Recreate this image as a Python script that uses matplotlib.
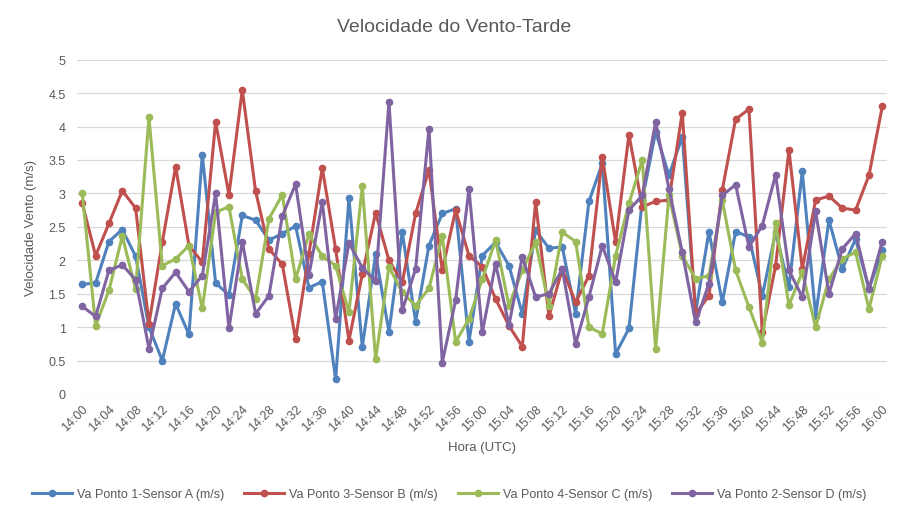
import numpy as np
import matplotlib as mpl
mpl.use('Agg')
import matplotlib.pyplot as plt

plt.rcParams['font.family'] = ['Liberation Sans', 'DejaVu Sans']

# horas de 2 em 2 minutos, 14:00 ate 16:00
horas = ['%02d:%02d' % (14 + m // 60, m % 60) for m in range(0, 122, 2)]

sensor_a = [1.64, 1.66, 2.28, 2.46, 2.06, 1.00, 0.50, 1.35, 0.89, 3.58,
            1.66, 1.48, 2.67, 2.60, 2.30, 2.40, 2.51, 1.59, 1.68, 0.22,
            2.93, 0.70, 2.09, 0.93, 2.42, 1.08, 2.22, 2.70, 2.77, 0.78,
            2.07, 2.27, 1.92, 1.20, 2.45, 2.18, 2.20, 1.20, 2.88, 3.45,
            0.60, 0.98, 2.90, 3.92, 3.27, 3.85, 1.22, 2.43, 1.37, 2.43,
            2.35, 1.47, 2.42, 1.60, 3.33, 1.17, 2.60, 1.87, 2.32, 1.57,
            2.15]
sensor_b = [2.85, 2.07, 2.55, 3.04, 2.78, 1.05, 2.27, 3.40, 2.22, 1.97,
            4.07, 2.98, 4.55, 3.03, 2.17, 1.94, 0.82, 2.10, 3.38, 2.17,
            0.80, 1.79, 2.71, 2.00, 1.67, 2.70, 3.35, 1.85, 2.75, 2.07,
            1.90, 1.42, 1.02, 0.71, 2.87, 1.16, 1.87, 1.37, 1.77, 3.55,
            2.27, 3.88, 2.80, 2.88, 2.90, 4.21, 1.20, 1.47, 3.05, 4.11,
            4.26, 0.92, 1.92, 3.65, 1.87, 2.90, 2.96, 2.78, 2.75, 3.27,
            4.30]
sensor_c = [3.00, 1.02, 1.55, 2.36, 1.57, 4.14, 1.92, 2.02, 2.22, 1.28,
            2.72, 2.80, 1.72, 1.42, 2.62, 2.98, 1.72, 2.39, 2.06, 1.92,
            1.22, 3.11, 0.52, 1.90, 1.52, 1.32, 1.58, 2.36, 0.78, 1.12,
            1.72, 2.30, 1.32, 1.85, 2.27, 1.32, 2.42, 2.28, 1.00, 0.90,
            2.07, 2.85, 3.50, 0.67, 2.97, 2.07, 1.72, 1.77, 2.90, 1.85,
            1.30, 0.77, 2.55, 1.33, 1.82, 1.00, 1.72, 2.02, 2.12, 1.27,
            2.07]
sensor_d = [1.31, 1.16, 1.85, 1.93, 1.71, 0.68, 1.58, 1.82, 1.53, 1.77,
            3.00, 0.98, 2.28, 1.20, 1.47, 2.66, 3.14, 1.78, 2.87, 1.12,
            2.26, 1.89, 1.69, 4.37, 1.25, 1.87, 3.97, 0.47, 1.40, 3.07,
            0.92, 1.95, 1.03, 2.05, 1.45, 1.50, 1.87, 0.75, 1.45, 2.22,
            1.67, 2.75, 2.97, 4.07, 3.07, 2.12, 1.07, 1.65, 2.97, 3.13,
            2.20, 2.52, 3.28, 1.85, 1.45, 2.73, 1.50, 2.17, 2.40, 1.57,
            2.28]

nomes = ['Va Ponto 1-Sensor A (m/s)', 'Va Ponto 3-Sensor B (m/s)',
         'Va Ponto 4-Sensor C (m/s)', 'Va Ponto 2-Sensor D (m/s)']
cores = ['#4F81BD', '#C0504D', '#9BBB59', '#8064A2']
cinza = '#595959'

fig = plt.figure(figsize=(8.99, 5.10), dpi=100)
ax = fig.add_axes([0.0853, 0.2255, 0.901, 0.6555])

x = np.arange(len(horas))
for serie, nome, cor in zip([sensor_a, sensor_b, sensor_c, sensor_d], nomes, cores):
    ax.plot(x, serie, color=cor, lw=2.2, marker='o', ms=4.5, label=nome)

ax.set_xlim(-0.42, len(horas) - 1 + 0.33)
ax.set_ylim(0, 5)
ax.set_yticks(np.arange(0, 5.01, 0.5))
ax.set_yticklabels(['0', '0.5', '1', '1.5', '2', '2.5', '3', '3.5', '4', '4.5', '5'])
ax.set_xticks(x[::2])
ax.set_xticklabels(horas[::2], rotation=45, ha='right', rotation_mode='anchor')

ax.grid(axis='y', color='#D9D9D9', lw=0.9)
ax.set_axisbelow(True)
for s in ax.spines.values():
    s.set_visible(False)
ax.tick_params(length=0, colors=cinza, labelsize=9)
ax.tick_params(axis='x', pad=6)
ax.tick_params(axis='y', pad=8)

ax.set_xlabel('Hora (UTC)', color=cinza, fontsize=9.5, labelpad=6)
ax.set_ylabel('Velocidade Vento (m/s)', color=cinza, fontsize=9.5, labelpad=8)
fig.suptitle('Velocidade do Vento-Tarde', x=0.505, y=0.962, fontsize=14, color=cinza)

fig.legend(loc='lower center', bbox_to_anchor=(0.5, -0.005), ncol=4, frameon=False,
           fontsize=9, labelcolor=cinza, handlelength=3.2, columnspacing=1.6, handletextpad=0.4)

plt.savefig('out.png', dpi=100)
